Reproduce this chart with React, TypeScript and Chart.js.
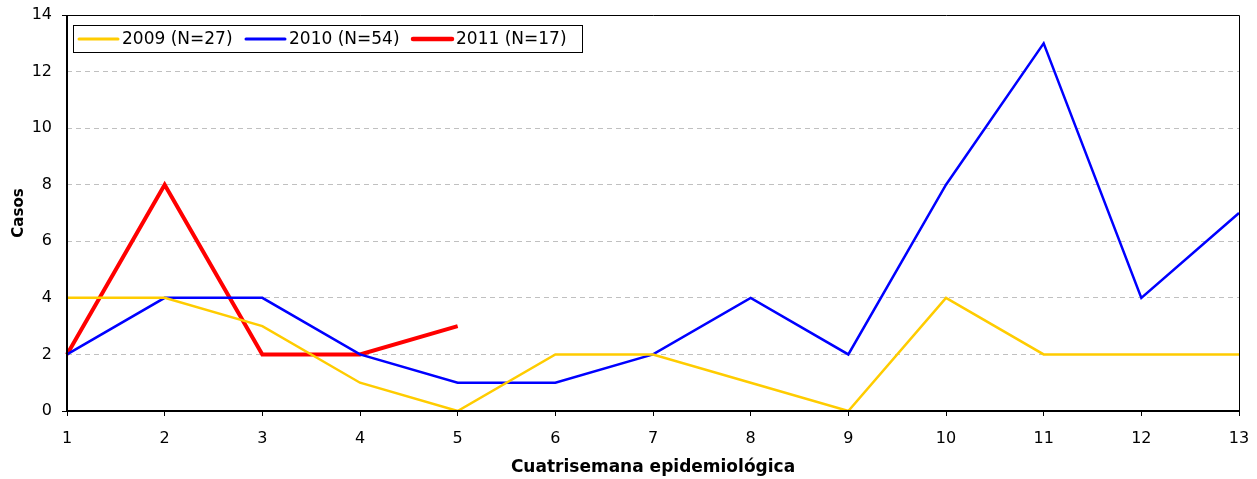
import React, { useEffect, useRef } from "react";
import { Chart, registerables } from "chart.js";

Chart.register(...registerables);

const categories = ["1", "2", "3", "4", "5", "6", "7", "8", "9", "10", "11", "12", "13"];
const series2009 = [4, 4, 3, 1, 0, 2, 2, 1, 0, 4, 2, 2, 2];
const series2010 = [2, 4, 4, 2, 1, 1, 2, 4, 2, 8, 13, 4, 7];
const series2011 = [2, 8, 2, 2, 3];
const seriesLabels = ["2009 (N=27)", "2010 (N=54)", "2011 (N=17)"];
const yTitle = "Casos";
const xTitle = "Cuatrisemana epidemiológica";

const FONT = "'DejaVu Sans', Verdana, sans-serif";

const legendPlugin = {
  id: "insideLegend",
  afterDraw(chart: any) {
    const ctx = chart.ctx;
    const area = chart.chartArea;
    const x0 = area.left + 6;
    const y0 = area.top + 10;
    const h = 27;
    const itemWidths = [167, 167, 126];
    const w = itemWidths.reduce((a, b) => a + b, 0) + 49;
    ctx.save();
    ctx.fillStyle = "#ffffff";
    ctx.fillRect(x0, y0, w, h);
    ctx.strokeStyle = "#000000";
    ctx.lineWidth = 1;
    ctx.strokeRect(x0 + 0.5, y0 + 0.5, w, h);
    ctx.font = `17px ${FONT}`;
    ctx.textBaseline = "middle";
    let x = x0 + 6;
    const cy = y0 + h / 2 + 0.5;
    chart.data.datasets.forEach((ds: any, i: number) => {
      ctx.strokeStyle = ds.borderColor;
      ctx.lineWidth = ds.borderWidth + 0.5;
      ctx.lineCap = "round";
      ctx.beginPath();
      ctx.moveTo(x, cy);
      ctx.lineTo(x + 39, cy);
      ctx.stroke();
      ctx.fillStyle = "#000000";
      ctx.fillText(ds.label, x + 43, cy + 1);
      x += itemWidths[i];
    });
    ctx.restore();
  },
};

const framePlugin = {
  id: "frame",
  afterDatasetsDraw(chart: any) {
    const ctx = chart.ctx;
    const a = chart.chartArea;
    ctx.save();
    ctx.strokeStyle = "#000000";
    ctx.lineWidth = 1;
    ctx.beginPath();
    ctx.moveTo(a.left, a.top + 0.5);
    ctx.lineTo(a.right + 0.5, a.top + 0.5);
    ctx.lineTo(a.right + 0.5, a.bottom);
    ctx.stroke();
    ctx.lineWidth = 2;
    ctx.beginPath();
    ctx.moveTo(a.left, a.top);
    ctx.lineTo(a.left, a.bottom);
    ctx.lineTo(a.right + 1, a.bottom);
    ctx.stroke();
    ctx.restore();
  },
};

export default function App() {
  const ref = useRef<HTMLCanvasElement>(null);
  useEffect(() => {
    if (!ref.current) return;
    const chart = new Chart(ref.current, {
      type: "line",
      data: {
        labels: categories,
        datasets: [
          {
            label: seriesLabels[0],
            data: series2009,
            borderColor: "#FFCC00",
            backgroundColor: "#FFCC00",
            borderWidth: 2.5,
            pointRadius: 0,
            tension: 0,
          },
          {
            label: seriesLabels[1],
            data: series2010,
            borderColor: "#0000FF",
            backgroundColor: "#0000FF",
            borderWidth: 2.5,
            pointRadius: 0,
            tension: 0,
          },
          {
            label: seriesLabels[2],
            data: series2011,
            borderColor: "#FF0000",
            backgroundColor: "#FF0000",
            borderWidth: 4,
            pointRadius: 0,
            tension: 0,
          },
        ],
      },
      options: {
        animation: false,
        responsive: true,
        maintainAspectRatio: false,
        layout: { padding: { top: 15, right: 18, left: 0, bottom: 0 } },
        plugins: {
          legend: { display: false },
          tooltip: { enabled: false },
        },
        scales: {
          x: {
            type: "category",
            offset: false,
            grid: {
              drawOnChartArea: false,
              drawTicks: true,
              tickLength: 5,
              tickColor: "#000000",
              tickWidth: 1,
            },
            border: { display: false },
            ticks: {
              color: "#000000",
              font: { family: FONT, size: 16 },
              padding: 13,
              maxRotation: 0,
              autoSkip: false,
            },
            title: {
              display: true,
              text: xTitle,
              color: "#000000",
              font: { family: FONT, size: 17, weight: "bold" },
              padding: { top: 6, bottom: 1 },
            },
            afterFit: (s: any) => {
              s.height = 479 - 411;
              s.paddingLeft = 0;
              s.paddingRight = 0;
            },
          },
          y: {
            min: 0,
            max: 14,
            ticks: {
              stepSize: 2,
              color: "#000000",
              font: { family: FONT, size: 16 },
              padding: 10,
            },
            grid: {
              color: (c: any) => (c.tick && (c.tick.value === 0 || c.tick.value === 14) ? "rgba(0,0,0,0)" : "#c0c0c0"),
              tickColor: (c: any) => (c.tick && (c.tick.value === 0 || c.tick.value === 14) ? "#000000" : "rgba(0,0,0,0)"),
              tickLength: 5,
              tickBorderDash: [],
              lineWidth: 1,
            },
            border: { display: false, dash: [5, 4] },
            title: {
              display: true,
              text: yTitle,
              color: "#000000",
              font: { family: FONT, size: 15, weight: "bold" },
              padding: { top: 10, bottom: 4 },
            },
            afterFit: (s: any) => {
              s.width = 67;
              s.paddingTop = 0;
              s.paddingBottom = 0;
            },
          },
        },
      },
      plugins: [framePlugin, legendPlugin],
    } as any);
    return () => chart.destroy();
  }, []);
  return (
    <div style={{ position: "fixed", left: 0, top: 0, width: 1257, height: 479, background: "#fff" }}>
      <canvas ref={ref} />
    </div>
  );
}
